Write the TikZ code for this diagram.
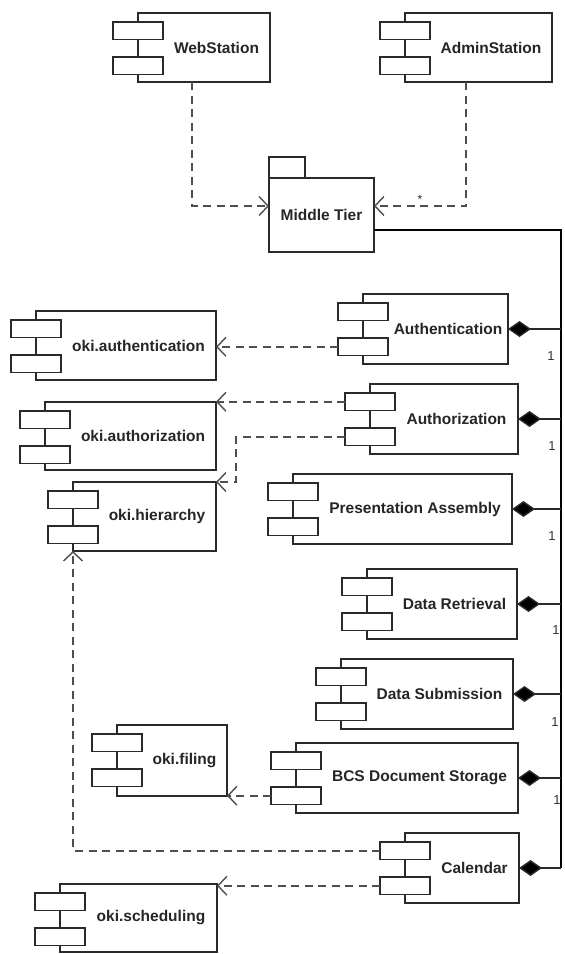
\documentclass[tikz,border=0pt]{standalone}
\usepackage{fontspec}
\setmainfont{Liberation Sans}
\usetikzlibrary{calc,arrows.meta}
\definecolor{cline}{HTML}{2A2A2A}
\definecolor{dline}{HTML}{4E4E4E}
\tikzset{
  cbody/.style={draw=cline, line width=1.5pt, fill=white, inner sep=0pt, outer sep=0pt},
  cport/.style={draw=cline, line width=1.5pt, fill=white, inner sep=0pt, outer sep=0pt,
                minimum width=50pt, minimum height=17.5pt},
  clabel/.style={font=\fontsize{15.5}{18}\selectfont\bfseries, text=black!85, inner sep=0pt},
  mult/.style={font=\fontsize{13}{15}\selectfont, text=black!80, inner sep=0pt},
  dep/.style={draw=dline, line width=1.6pt, dash pattern=on 8pt off 5.5pt,
              -{Straight Barb[length=9pt,width=19pt,line width=1.4pt]}},
  bus/.style={draw=black, line width=2.3pt, line join=miter},
  branch/.style={draw=cline, line width=1.4pt, {Diamond[length=23pt,width=16pt,fill=black]}-},
}
\newcommand\compbox[6]{%
  \node[cbody, minimum width=#4pt, minimum height=#5pt, anchor=north west] (#1) at (#2,#3) {};
  \node[cport, anchor=north] (#1-p1) at ($(#1.north west)+(0,9)$) {};
  \node[cport, anchor=north] (#1-p2) at ($(#1.north west)+(0,44)$) {};
  \node[clabel] (#1-t) at ($(#1-p1.east |- #1.center)!0.5!(#1.east)$) {#6};
}
\begin{document}
\begin{tikzpicture}[x=1pt,y=-1pt]
\useasboundingbox[fill=white] (0,0) rectangle (565,954);

% top stations
\compbox{ws}{138}{13}{132}{69}{WebStation}
\compbox{as}{405}{13}{147}{69}{AdminStation}

% middle tier package
\node[cbody, minimum width=105pt, minimum height=74pt, anchor=north west] (mt) at (269,178) {};
\node[cbody, minimum width=36pt, minimum height=21pt, anchor=south west] (mttab) at (mt.north west) {};
\node[clabel] (mt-t) at (mt.center) {Middle Tier};

% components
\compbox{auth}{363}{294}{145}{70}{Authentication}
\compbox{oauth}{36}{311}{180}{69}{oki.authentication}
\compbox{authz}{370}{384}{148}{70}{Authorization}
\compbox{oauthz}{45}{402}{171}{68}{oki.authorization}
\compbox{ohier}{73}{482}{143}{69}{oki.hierarchy}
\compbox{pres}{293}{474}{219}{70}{Presentation Assembly}
\compbox{dr}{367}{569}{150}{70}{Data Retrieval}
\compbox{ds}{341}{659}{172}{70}{Data Submission}
\compbox{ofil}{117}{725}{110}{71}{oki.filing}
\compbox{bcs}{296}{743}{222}{70}{BCS Document Storage}
\compbox{cal}{405}{833}{114}{70}{Calendar}
\compbox{osched}{60}{884}{157}{68}{oki.scheduling}

% station dependencies
\coordinate (wsout) at ($(ws.south west)+(54,0)$);
\coordinate (asout) at ($(as.south west)+(61,0)$);
\draw[dep] (wsout) |- ($(mt.west)+(0,-9)$);
\draw[dep] (asout) |- ($(mt.east)+(0,-9)$);
\node[font=\fontsize{12}{14}\selectfont, text=cline, inner sep=0pt] (star) at (420,199) {*};

% composition bus
\coordinate (busT) at (561,230);
\draw[bus] (mt.east |- busT) -- (busT) -- (busT |- cal.east);
\foreach \n in {auth,authz,pres,dr,ds,bcs,cal}
  \draw[branch] (\n.east) -- (\n.east -| busT);

% multiplicities
\node[mult] (m1) at (551,356) {1};
\node[mult] (m2) at (552,446) {1};
\node[mult] (m3) at (552,536) {1};
\node[mult] (m4) at (556,630) {1};
\node[mult] (m5) at (555,722) {1};
\node[mult] (m6) at (557,800) {1};

% oki dependencies
\draw[dep] (auth-p2.west) -- (auth-p2.west -| oauth.east);
\draw[dep] (authz-p1.west) -- (authz-p1.west -| oauthz.east);
\draw[dep] (authz-p2.west) -| ($(ohier.north east)+(20,0)$) -- (ohier.north east);
\draw[dep] (bcs-p2.west) -- (bcs-p2.west -| ofil.east);
\draw[dep] (cal-p1.west) -| (ohier.south west);
\draw[dep] (cal-p2.west) -- (cal-p2.west -| osched.east);
\end{tikzpicture}
\end{document}
